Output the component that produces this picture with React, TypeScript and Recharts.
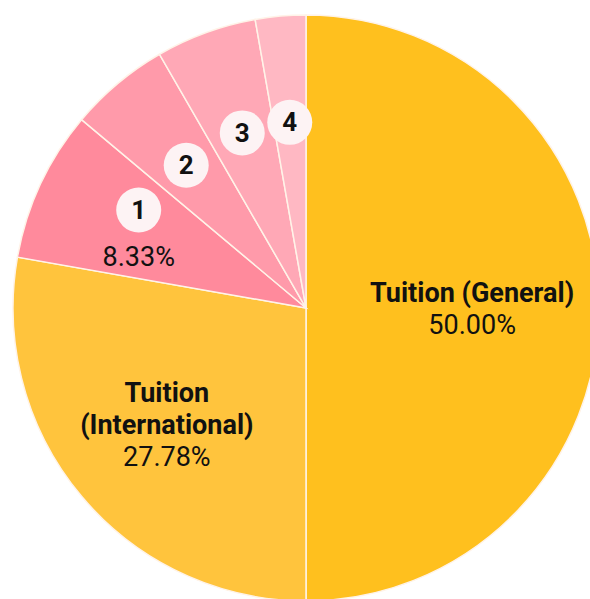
import React from "react";
import { PieChart, Pie, Cell } from "recharts";

const categories = ["Tuition (General)", "Tuition (International)", "1", "2", "3", "4"];
const values = [18, 10, 3, 2, 2, 1];
const percentLabels = ["50.00%", "27.78%", "8.33%", "5.56%", "5.56%", "2.78%"];
const colors = ["#FFC01E", "#FFC43D", "#FF8A9C", "#FF9AAA", "#FFA8B6", "#FFB8C3"];

const data = categories.map((name, i) => ({ name, value: values[i], pct: percentLabels[i] }));

const RAD = Math.PI / 180;
const FONT = "Roboto, 'Noto Sans', sans-serif";
const FS = 27;

const renderLabel = (props: any) => {
  const { cx, cy, midAngle, outerRadius, index } = props;
  const d = data[index];
  const factor = index === 0 ? 0.567 : index === 1 ? 0.62 : index === 2 ? 0.63 : 0.636;
  const r = outerRadius * factor;
  const x = cx + r * Math.cos(-midAngle * RAD);
  const y = cy + r * Math.sin(-midAngle * RAD);
  if (index === 0) {
    return (
      <g>
        <text x={x} y={y - 15} textAnchor="middle" dominantBaseline="central" fontFamily={FONT} fontWeight={700} fontSize={FS} fill="#111">
          {d.name}
        </text>
        <text x={x} y={y + 17} textAnchor="middle" dominantBaseline="central" fontFamily={FONT} fontSize={FS} fill="#111">
          {d.pct}
        </text>
      </g>
    );
  }
  if (index === 1) {
    return (
      <g>
        <text x={x} y={y - 32} textAnchor="middle" dominantBaseline="central" fontFamily={FONT} fontWeight={700} fontSize={FS} fill="#111">
          Tuition
        </text>
        <text x={x} y={y} textAnchor="middle" dominantBaseline="central" fontFamily={FONT} fontWeight={700} fontSize={FS} fill="#111">
          (International)
        </text>
        <text x={x} y={y + 32} textAnchor="middle" dominantBaseline="central" fontFamily={FONT} fontSize={FS} fill="#111">
          {d.pct}
        </text>
      </g>
    );
  }
  if (index === 2) {
    return (
      <g>
        <circle cx={x} cy={y - 20} r={22.5} fill="#FDF3F4" />
        <text x={x} y={y - 20} textAnchor="middle" dominantBaseline="central" fontFamily={FONT} fontWeight={700} fontSize={26} fill="#111">
          {d.name}
        </text>
        <text x={x} y={y + 27} textAnchor="middle" dominantBaseline="central" fontFamily={FONT} fontSize={FS} fill="#111">
          {d.pct}
        </text>
      </g>
    );
  }
  return (
    <g>
      <circle cx={x} cy={y} r={22.5} fill="#FDF3F4" />
      <text x={x} y={y} textAnchor="middle" dominantBaseline="central" fontFamily={FONT} fontWeight={700} fontSize={26} fill="#111">
        {d.name}
      </text>
    </g>
  );
};

export default function App() {
  return (
    <div style={{ position: "absolute", left: 0, top: 0, width: 590, height: 599, background: "#fff", overflow: "hidden" }}>
      <PieChart width={590} height={599} margin={{ top: 0, right: 0, bottom: 0, left: 0 }}>
        <Pie
          data={data}
          dataKey="value"
          nameKey="name"
          cx={306}
          cy={308}
          outerRadius={293}
          startAngle={90}
          endAngle={-270}
          stroke="#FFF3E8"
          strokeWidth={1.5}
          label={renderLabel}
          labelLine={false}
          isAnimationActive={false}
        >
          {data.map((d, i) => (
            <Cell key={d.name} fill={colors[i]} />
          ))}
        </Pie>
      </PieChart>
    </div>
  );
}
